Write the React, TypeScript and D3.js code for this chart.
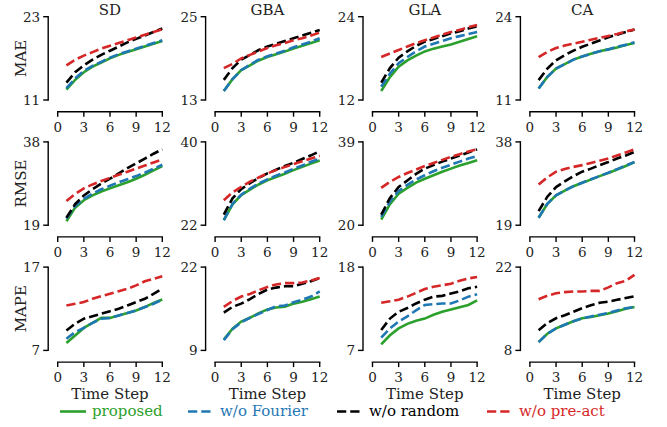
import React from "react";
import * as d3 from "d3";

const datasets = ["SD", "GBA", "GLA", "CA"];
const metrics = ["MAE", "RMSE", "MAPE"];
const steps = [1, 2, 3, 4, 5, 6, 7, 8, 9, 10, 11, 12];
const xTicks = [0, 3, 6, 9, 12];
const seriesNames = ["proposed", "w/o Fourier", "w/o random", "w/o pre-act"];

// y ranges [min, max] per metric, per dataset
const maeRange = [[11, 23], [13, 25], [12, 24], [11, 24]];
const rmseRange = [[19, 38], [22, 40], [20, 39], [19, 38]];
const mapeRange = [[7, 17], [9, 22], [7, 18], [8, 22]];

// MAE  (rows: SD, GBA, GLA, CA)
const maeProposed = [
  [12.5, 13.9, 15.0, 15.8, 16.4, 17.0, 17.5, 17.9, 18.3, 18.7, 19.1, 19.5],
  [14.3, 16.0, 17.3, 18.0, 18.7, 19.2, 19.6, 20.0, 20.4, 20.8, 21.2, 21.6],
  [13.3, 15.3, 16.8, 17.7, 18.4, 19.0, 19.4, 19.7, 20.0, 20.4, 20.8, 21.2],
  [12.8, 14.6, 15.9, 16.6, 17.3, 17.8, 18.2, 18.6, 18.9, 19.2, 19.6, 19.9],
];
const maeFourier = [
  [12.7, 14.1, 15.2, 15.9, 16.5, 17.1, 17.6, 18.0, 18.4, 18.8, 19.2, 19.6],
  [14.3, 16.0, 17.3, 18.1, 18.8, 19.3, 19.7, 20.1, 20.6, 21.0, 21.4, 21.9],
  [13.9, 15.8, 17.3, 18.2, 19.0, 19.7, 20.1, 20.5, 20.9, 21.2, 21.5, 21.8],
  [12.8, 14.6, 15.9, 16.6, 17.3, 17.8, 18.2, 18.6, 18.9, 19.3, 19.6, 20.0],
];
const maeRandom = [
  [13.5, 15.0, 16.0, 16.8, 17.5, 18.1, 18.7, 19.3, 19.8, 20.3, 20.8, 21.3],
  [15.9, 17.6, 18.8, 19.5, 20.2, 20.7, 21.1, 21.5, 21.9, 22.3, 22.7, 23.1],
  [14.5, 16.6, 18.1, 19.0, 19.8, 20.4, 20.8, 21.2, 21.6, 21.9, 22.3, 22.6],
  [14.1, 15.9, 17.2, 18.0, 18.7, 19.3, 19.8, 20.3, 20.8, 21.2, 21.6, 22.0],
];
const maePreact = [
  [16.0, 16.8, 17.4, 17.9, 18.4, 18.8, 19.2, 19.6, 20.0, 20.4, 20.8, 21.2],
  [17.6, 18.2, 19.0, 19.5, 20.0, 20.5, 20.9, 21.2, 21.6, 21.9, 22.3, 22.7],
  [18.2, 18.7, 19.2, 19.7, 20.2, 20.6, 21.0, 21.4, 21.8, 22.1, 22.5, 22.8],
  [17.7, 18.5, 19.1, 19.5, 19.8, 20.1, 20.4, 20.7, 21.0, 21.3, 21.7, 22.0],
];

// RMSE
const rmseProposed = [
  [19.9, 23.0, 24.7, 25.8, 26.7, 27.4, 28.1, 28.8, 29.6, 30.5, 31.5, 32.5],
  [23.1, 26.5, 28.5, 29.7, 30.8, 31.7, 32.4, 33.1, 33.9, 34.6, 35.3, 36.0],
  [21.3, 24.8, 27.2, 28.5, 29.7, 30.6, 31.4, 32.2, 32.9, 33.6, 34.2, 34.8],
  [20.7, 23.9, 25.8, 26.9, 27.9, 28.7, 29.4, 30.2, 30.9, 31.7, 32.5, 33.4],
];
const rmseFourier = [
  [20.5, 23.4, 25.0, 26.2, 27.2, 28.0, 28.8, 29.5, 30.2, 31.0, 31.9, 32.8],
  [23.1, 26.6, 28.6, 29.9, 31.0, 31.9, 32.7, 33.4, 34.2, 34.9, 35.7, 36.4],
  [21.9, 25.4, 27.8, 29.2, 30.4, 31.4, 32.3, 33.1, 33.8, 34.5, 35.2, 35.8],
  [20.7, 23.9, 25.8, 26.9, 27.9, 28.7, 29.5, 30.2, 31.0, 31.8, 32.6, 33.4],
];
const rmseRandom = [
  [20.7, 23.8, 25.8, 27.2, 28.5, 29.6, 30.8, 32.0, 33.1, 34.2, 35.3, 36.3],
  [24.3, 27.8, 29.8, 31.1, 32.2, 33.2, 34.0, 34.8, 35.5, 36.3, 37.1, 38.0],
  [22.4, 26.2, 28.7, 30.2, 31.7, 32.9, 33.7, 34.5, 35.2, 35.9, 36.6, 37.3],
  [22.2, 25.5, 27.7, 29.0, 30.2, 31.2, 31.9, 32.7, 33.4, 34.2, 34.9, 35.7],
];
const rmsePreact = [
  [24.5, 26.1, 27.4, 28.3, 29.1, 29.8, 30.5, 31.2, 31.9, 32.6, 33.3, 34.0],
  [27.4, 29.1, 30.3, 31.4, 32.3, 33.2, 33.9, 34.6, 35.2, 35.8, 36.4, 37.0],
  [28.5, 29.9, 31.0, 31.9, 32.7, 33.5, 34.2, 34.9, 35.6, 36.2, 36.8, 37.3],
  [28.3, 29.9, 31.2, 31.8, 32.3, 32.7, 33.2, 33.7, 34.2, 34.9, 35.6, 36.3],
];

// MAPE
const mapeProposed = [
  [7.9, 8.8, 9.7, 10.3, 10.9, 10.9, 11.2, 11.5, 11.8, 12.2, 12.7, 13.1],
  [10.7, 12.4, 13.5, 14.1, 14.8, 15.4, 15.7, 15.8, 16.3, 16.6, 17.0, 17.4],
  [7.8, 9.0, 9.9, 10.5, 10.9, 11.2, 11.7, 12.1, 12.4, 12.7, 13.0, 13.6],
  [9.4, 10.8, 11.7, 12.3, 12.9, 13.4, 13.6, 13.9, 14.2, 14.6, 15.0, 15.3],
];
const mapeFourier = [
  [8.4, 9.2, 9.7, 10.3, 10.8, 10.9, 11.2, 11.5, 11.8, 12.2, 12.6, 13.1],
  [10.6, 12.3, 13.4, 14.1, 14.7, 15.3, 15.9, 16.0, 16.5, 16.9, 17.4, 18.2],
  [8.7, 9.9, 10.8, 11.5, 12.3, 13.0, 13.1, 13.2, 13.2, 13.6, 14.1, 14.4],
  [9.4, 10.8, 11.7, 12.3, 12.9, 13.4, 13.7, 14.0, 14.3, 14.7, 15.1, 15.3],
];
const mapeRandom = [
  [9.4, 10.2, 10.8, 11.1, 11.4, 11.7, 12.0, 12.4, 12.8, 13.2, 13.8, 14.4],
  [14.9, 15.8, 16.3, 17.0, 17.8, 18.5, 18.8, 19.0, 19.0, 19.4, 19.8, 20.3],
  [9.7, 11.2, 12.1, 12.6, 13.2, 13.7, 14.1, 14.2, 14.5, 14.8, 15.2, 15.4],
  [11.4, 12.6, 13.4, 13.9, 14.5, 15.1, 15.6, 16.0, 16.2, 16.5, 16.8, 17.1],
];
const mapePreact = [
  [12.4, 12.6, 12.8, 13.2, 13.5, 13.8, 14.1, 14.4, 14.8, 15.3, 15.6, 15.9],
  [15.8, 16.7, 17.4, 17.8, 18.4, 18.9, 19.3, 19.5, 19.5, 19.6, 19.9, 20.3],
  [13.3, 13.5, 13.7, 14.1, 14.6, 15.1, 15.4, 15.6, 15.8, 16.2, 16.5, 16.7],
  [16.6, 17.2, 17.6, 17.8, 17.9, 17.9, 18.0, 18.0, 18.6, 19.3, 19.7, 20.7],
];

const ranges = [maeRange, rmseRange, mapeRange];
const tables = [
  [maeProposed, maeFourier, maeRandom, maePreact],
  [rmseProposed, rmseFourier, rmseRandom, rmsePreact],
  [mapeProposed, mapeFourier, mapeRandom, mapePreact],
];

const colors = ["#2ca02c", "#1f77b4", "#000000", "#d62728"];
const dashes = [null, "9.25,4", "9.25,4", "9.25,4"];

const FONT = "'DejaVu Serif', 'Liberation Serif', serif";
const W = 667;
const H = 427;

const colX0 = 57.7;
const colStep = 157.4;
const plotW = 104.6;
const rowTop = 16.7;
const rowStep = 125.2;
const plotH = 83.3;
const spineOffX = 9.5;
const spineOffY = 11.7;

const legendX = [60, 188, 337, 487];

export default function App() {
  const panels: React.ReactNode[] = [];
  metrics.forEach((metric, r) => {
    datasets.forEach((ds, c) => {
      const x0 = colX0 + c * colStep;
      const y0 = rowTop + r * rowStep;
      const [lo, hi] = ranges[r][c];
      const x = d3.scaleLinear().domain([0, 12]).range([x0, x0 + plotW]);
      const y = d3.scaleLinear().domain([lo, hi]).range([y0 + plotH, y0]);
      const line = d3
        .line<number>()
        .x((_, i) => x(steps[i]))
        .y((v) => y(v));
      const spineX = x0 - spineOffX;
      const axisY = y0 + plotH + spineOffY;
      panels.push(
        <g key={`${r}-${c}`}>
          {tables[r].map((series, s) => (
            <path
              key={s}
              d={line(series[c]) || ""}
              fill="none"
              stroke={colors[s]}
              strokeWidth={2.6}
              strokeDasharray={dashes[s] || undefined}
            />
          ))}
          <line x1={spineX} x2={spineX} y1={y(hi)} y2={y(lo)} stroke="#000" strokeWidth={1.4} strokeLinecap="square" />
          {[lo, hi].map((t) => (
            <g key={t}>
              <line x1={spineX - 5} x2={spineX} y1={y(t)} y2={y(t)} stroke="#000" strokeWidth={1.4} />
              <text x={spineX - 8} y={y(t)} dy="0.36em" textAnchor="end" fontFamily={FONT} fontSize={13.5} fill="#222">
                {t}
              </text>
            </g>
          ))}
          <line x1={x(0)} x2={x(12)} y1={axisY} y2={axisY} stroke="#000" strokeWidth={1.4} strokeLinecap="square" />
          {xTicks.map((t) => (
            <g key={t}>
              <line x1={x(t)} x2={x(t)} y1={axisY} y2={axisY + 5} stroke="#000" strokeWidth={1.4} />
              <text x={x(t)} y={axisY + 20} textAnchor="middle" fontFamily={FONT} fontSize={13.5} fill="#222">
                {t}
              </text>
            </g>
          ))}
          {r === 0 && (
            <text x={x(6)} y={15} textAnchor="middle" fontFamily={FONT} fontSize={15} fill="#222">
              {ds}
            </text>
          )}
          {c === 0 && (
            <text
              transform={`translate(${26},${y0 + plotH / 2}) rotate(-90)`}
              textAnchor="middle"
              fontFamily={FONT}
              fontSize={15}
              fill="#222"
            >
              {metric}
            </text>
          )}
          {r === 2 && (
            <text x={x(6)} y={399} textAnchor="middle" fontFamily={FONT} fontSize={15} fill="#222">
              Time Step
            </text>
          )}
        </g>
      );
    });
  });

  return (
    <svg width={W} height={H} style={{ position: "absolute", left: 0, top: 0, background: "#fff" }}>
      {panels}
      {seriesNames.map((name, i) => (
        <g key={name}>
          <line
            x1={legendX[i]}
            x2={legendX[i] + 26}
            y1={411.5}
            y2={411.5}
            stroke={colors[i]}
            strokeWidth={2.6}
            strokeDasharray={dashes[i] || undefined}
          />
          <text x={legendX[i] + 32} y={416} fontFamily={FONT} fontSize={15} fill={colors[i]}>
            {name}
          </text>
        </g>
      ))}
    </svg>
  );
}
